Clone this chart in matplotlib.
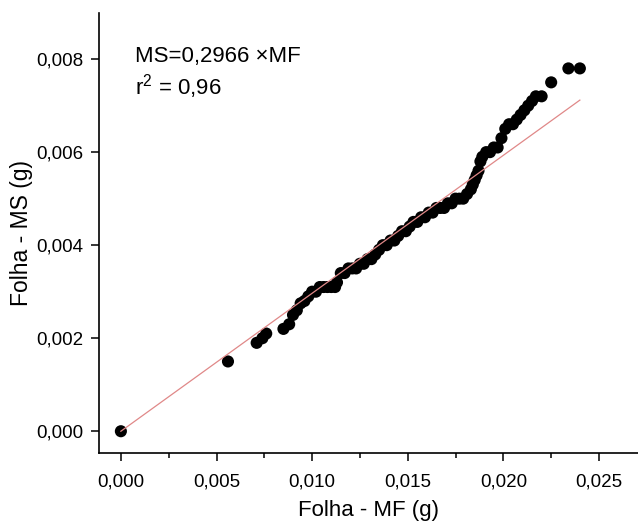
import matplotlib
matplotlib.use('Agg')
import matplotlib.pyplot as plt
from matplotlib.ticker import MultipleLocator, FuncFormatter

plt.rcParams['font.family'] = ['Liberation Sans', 'DejaVu Sans']
plt.rcParams['mathtext.fontset'] = 'custom'
plt.rcParams['mathtext.rm'] = 'Liberation Sans'
plt.rcParams['mathtext.it'] = 'Liberation Sans:italic'

# leaf fresh mass (MF) vs dry mass (MS), grams
mf = [0.0, 0.0056, 0.0071, 0.0074, 0.0076, 0.0085, 0.0088, 0.0090, 0.0092,
      0.0094, 0.0096, 0.0098, 0.0100, 0.0102, 0.0104, 0.0106, 0.0108, 0.0110,
      0.0112, 0.0113, 0.0115, 0.0117, 0.0119, 0.0121, 0.0123, 0.0125, 0.0127,
      0.0129, 0.0131, 0.0133, 0.0135, 0.0137, 0.0139, 0.0141, 0.0143, 0.0145,
      0.0147, 0.0149, 0.0151, 0.0153, 0.0155, 0.0157, 0.0159, 0.0161, 0.0163,
      0.0165, 0.0167, 0.0169, 0.0171, 0.0173, 0.0175, 0.0177, 0.0179, 0.0181,
      0.0183, 0.0184, 0.0185, 0.0186, 0.0187, 0.0188, 0.0189, 0.0191, 0.0193,
      0.0195, 0.0197, 0.0199, 0.0201, 0.0203, 0.0205, 0.0207, 0.0209, 0.0211,
      0.0213, 0.0215, 0.0217, 0.0220, 0.0225, 0.0234, 0.0240]
ms = [0.0, 0.0015, 0.0019, 0.0020, 0.0021, 0.0022, 0.0023, 0.0025, 0.0026,
      0.00275, 0.0028, 0.0029, 0.0030, 0.0030, 0.0031, 0.0031, 0.0031, 0.0031,
      0.0031, 0.0032, 0.0034, 0.0034, 0.0035, 0.0035, 0.0035, 0.0036, 0.0036,
      0.0037, 0.0037, 0.0038, 0.0039, 0.0040, 0.0040, 0.0041, 0.0041, 0.0042,
      0.0043, 0.0043, 0.0044, 0.0045, 0.0045, 0.0046, 0.0046, 0.0047, 0.0047,
      0.0048, 0.0048, 0.0048, 0.0049, 0.0049, 0.0050, 0.0050, 0.0050, 0.0051,
      0.0052, 0.0053, 0.0054, 0.0055, 0.0056, 0.0058, 0.0059, 0.0060, 0.0060,
      0.0061, 0.0061, 0.0063, 0.0065, 0.0066, 0.0066, 0.0067, 0.0068, 0.0069,
      0.0070, 0.0071, 0.0072, 0.0072, 0.0075, 0.0078, 0.0078]

slope = 0.2966
fit_x = [0.0, 0.0240]

fig = plt.figure(figsize=(6.38, 5.22), dpi=100)
ax = fig.add_axes([0.155, 0.132, 0.845, 0.843])

ax.plot(fit_x, [slope * v for v in fit_x], color='#e08888', lw=0.9, zorder=3)
ax.scatter(mf, ms, s=76, color='black', edgecolors='none', zorder=2)

ax.set_xlim(-0.00115, 0.02704)
ax.set_ylim(-0.00047, 0.00899)

ax.xaxis.set_major_locator(MultipleLocator(0.005))
ax.xaxis.set_minor_locator(MultipleLocator(0.0025))
ax.yaxis.set_major_locator(MultipleLocator(0.002))
comma = FuncFormatter(lambda v, p: f'{v:.3f}'.replace('.', ','))
ax.xaxis.set_major_formatter(comma)
ax.yaxis.set_major_formatter(comma)

for s in ['top', 'right']:
    ax.spines[s].set_visible(False)
for s in ['left', 'bottom']:
    ax.spines[s].set_linewidth(1.2)
ax.tick_params(which='major', direction='out', length=6, width=1.1, labelsize=13.5, pad=5)
ax.tick_params(axis='x', which='major', pad=9)
ax.tick_params(which='minor', direction='out', length=3.5, width=1.1)

ax.set_xlabel('Folha - MF (g)', fontsize=16)
ax.set_ylabel('Folha - MS (g)', fontsize=16.5)
ax.xaxis.set_label_coords(0.5, -0.106)
ax.yaxis.set_label_coords(-0.123, 0.5)

ax.text(0.067, 0.902, 'MS=0,2966 ×MF', transform=ax.transAxes, fontsize=16, va='center')
ax.text(0.067, 0.832, 'r$^2$ = 0,96', transform=ax.transAxes, fontsize=16, va='center')

fig.savefig('out.png', dpi=100)
